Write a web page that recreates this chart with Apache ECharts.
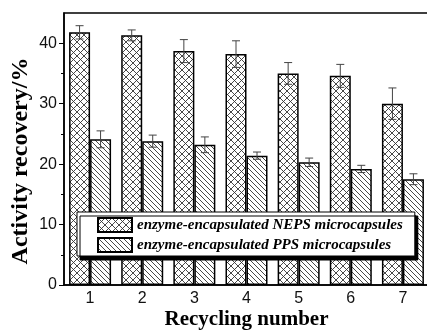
<!DOCTYPE html>
<html>
<head>
<meta charset="utf-8">
<script src="https://cdn.jsdelivr.net/npm/echarts@6/dist/echarts.min.js"></script>
<style>html,body{margin:0;padding:0;background:#fff}#c{width:427px;height:331px}</style>
</head>
<body>
<div id="c"></div>
<script>
const categories = ['1', '2', '3', '4', '5', '6', '7'];
const nepsValues = [41.8, 41.3, 38.7, 38.2, 35.0, 34.6, 30.0];
const nepsErrors = [1.1, 0.9, 1.9, 2.2, 1.8, 1.9, 2.6];
const ppsValues = [24.1, 23.8, 23.2, 21.4, 20.3, 19.2, 17.5];
const ppsErrors = [1.4, 1.0, 1.3, 0.6, 0.7, 0.6, 0.9];
const yMajorTicks = [0, 10, 20, 30, 40];
const yMinorTicks = [5, 15, 25, 35];
const seriesNames = ['enzyme-encapsulated NEPS microcapsules', 'enzyme-encapsulated PPS microcapsules'];

function makePattern(size, cross) {
  const c = document.createElement('canvas');
  c.width = size; c.height = size;
  const g = c.getContext('2d');
  g.fillStyle = '#fff'; g.fillRect(0, 0, size, size);
  g.strokeStyle = '#333'; g.lineWidth = 0.9;
  g.beginPath();
  g.moveTo(-1, -1); g.lineTo(size + 1, size + 1);
  g.moveTo(-1, size - 1); g.lineTo(1, size + 1);
  g.moveTo(size - 1, -1); g.lineTo(size + 1, 1);
  if (cross) {
    g.moveTo(-1, size + 1); g.lineTo(size + 1, -1);
    g.moveTo(-1, 1); g.lineTo(1, -1);
    g.moveTo(size - 1, size + 1); g.lineTo(size + 1, size - 1);
  }
  g.stroke();
  return c;
}
const crossPat = { image: makePattern(7, true), repeat: 'repeat' };
const hatchPat = { image: makePattern(5, false), repeat: 'repeat' };

const chart = echarts.init(document.getElementById('c'), null, { renderer: 'canvas' });

function errRender(offset) {
  return function (params, api) {
    const i = api.value(0), v = api.value(1), e = api.value(2);
    const top = api.coord([i, v + e]);
    const bot = api.coord([i, v - e]);
    const x = top[0] + offset;
    const hw = 4;
    const st = { stroke: '#444', lineWidth: 1 };
    return {
      type: 'group',
      children: [
        { type: 'line', shape: { x1: x, y1: top[1], x2: x, y2: bot[1] }, style: st },
        { type: 'line', shape: { x1: x - hw, y1: top[1], x2: x + hw, y2: top[1] }, style: st },
        { type: 'line', shape: { x1: x - hw, y1: bot[1], x2: x + hw, y2: bot[1] }, style: st }
      ]
    };
  };
}

const serif = 'Liberation Serif, Times New Roman, serif';
const sans = 'Liberation Sans, Arial, sans-serif';

chart.setOption({
  animation: false,
  grid: { left: 64, right: -2, top: 13, bottom: 46, containLabel: false, outerBoundsMode: 'none',
          show: true, borderColor: '#000', borderWidth: 1.5, backgroundColor: 'transparent' },
  legend: {
    orient: 'vertical', left: 77, top: 212, icon: 'rect',
    itemWidth: 34, itemHeight: 14, itemGap: 4, itemTextGap: 4,
    padding: [5, 12, 3, 20],
    backgroundColor: '#fff', borderColor: '#000', borderWidth: 1,
    shadowColor: '#000', shadowBlur: 0.01, shadowOffsetX: 3, shadowOffsetY: 4,
    data: seriesNames,
    textStyle: { fontFamily: serif, fontStyle: 'italic', fontWeight: 'bold', fontSize: 15, color: '#000' }
  },
  xAxis: {
    type: 'category', data: categories, boundaryGap: true,
    axisLine: { lineStyle: { color: '#000', width: 1.5 } },
    axisTick: { inside: true, length: 3, lineStyle: { color: '#000' } },
    axisLabel: { fontFamily: sans, fontSize: 16, color: '#111', margin: 6 },
    name: 'Recycling number', nameLocation: 'middle', nameGap: 24, nameMoveOverlap: false,
    nameTextStyle: { fontFamily: serif, fontWeight: 'bold', fontSize: 21, color: '#000' }
  },
  yAxis: [{
    type: 'value', min: 0, max: 45,
    splitLine: { show: false },
    axisLine: { show: true, lineStyle: { color: '#000', width: 1.5 } },
    axisTick: { show: true, inside: false, length: 5, customValues: yMajorTicks, lineStyle: { color: '#000' } },
    axisLabel: { fontFamily: sans, fontSize: 16, color: '#111', margin: 7, customValues: yMajorTicks },
    name: 'Activity recovery/%', nameLocation: 'middle', nameGap: 31, nameMoveOverlap: false,
    nameTextStyle: { fontFamily: serif, fontWeight: 'bold', fontSize: 24, color: '#000', padding: [0, 24, 0, 0] }
  }, {
    type: 'value', min: 0, max: 45, position: 'left',
    splitLine: { show: false },
    axisLine: { show: false },
    axisTick: { show: true, inside: false, length: 3, customValues: yMinorTicks, lineStyle: { color: '#000' } },
    axisLabel: { show: false }
  }],
  series: [
    {
      name: seriesNames[0], type: 'bar', data: nepsValues, barWidth: 21, barGap: '0%',
      itemStyle: { color: crossPat, borderColor: '#000', borderWidth: 1.5 }
    },
    {
      name: seriesNames[1], type: 'bar', data: ppsValues, barWidth: 21, barGap: '0%',
      itemStyle: { color: hatchPat, borderColor: '#000', borderWidth: 1.5 }
    },
    {
      type: 'custom', renderItem: errRender(-10.5), z: 5,
      data: nepsValues.map((v, i) => [i, v, nepsErrors[i]])
    },
    {
      type: 'custom', renderItem: errRender(10.5), z: 5,
      data: ppsValues.map((v, i) => [i, v, ppsErrors[i]])
    }
  ]
});
</script>
</body>
</html>
